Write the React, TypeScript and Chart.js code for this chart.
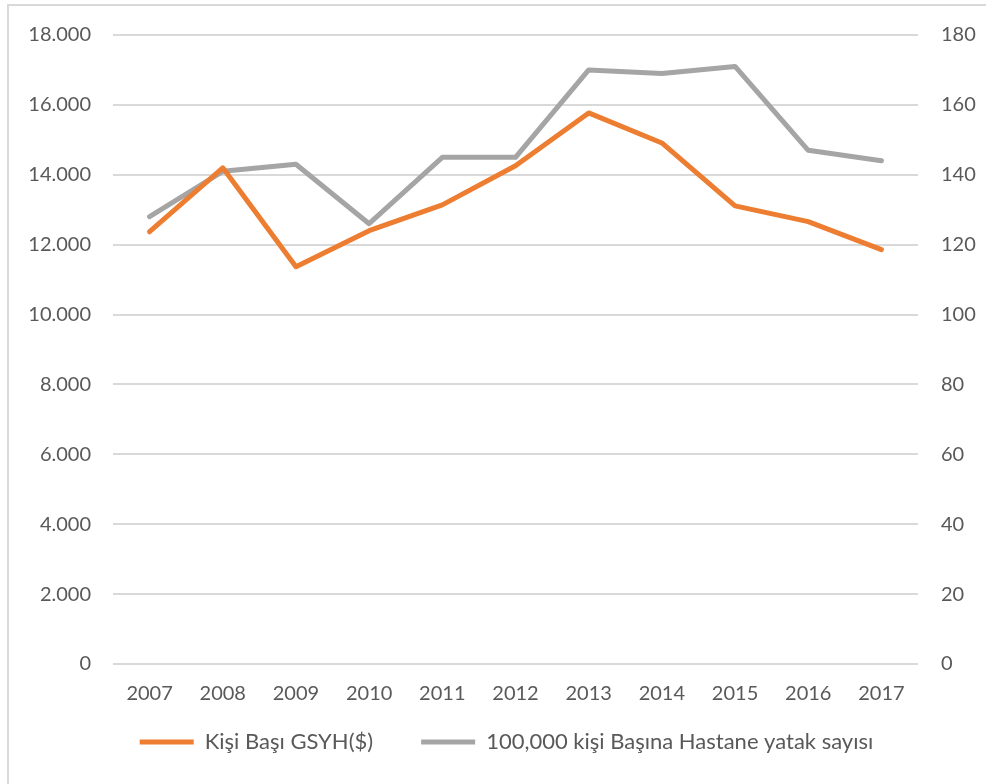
import React, { useEffect, useRef } from "react";
import { Chart, registerables } from "chart.js";

Chart.register(...registerables);

const years = ["2007", "2008", "2009", "2010", "2011", "2012", "2013", "2014", "2015", "2016", "2017"];
const gdpPerCapita = [12370, 14200, 11370, 12400, 13140, 14260, 15770, 14910, 13110, 12660, 11860];
const hospitalBeds = [128, 141, 143, 126, 145, 145, 170, 169, 171, 147, 144];
const gdpLabel = "Kişi Başı GSYH($)";
const bedsLabel = "100,000 kişi Başına Hastane yatak sayısı";

const FONT = "Lato";
const TEXT = "#595959";
const GRID = "#d9d9d9";

const fmt = (v: number) => String(v).replace(/\B(?=(\d{3})+(?!\d))/g, ".");

// legend: keep wide horizontal spacing between items but a compact box,
// then lift it closer to the x axis
const LEGEND_HEIGHT = 76;
const LEGEND_LIFT = 23;
const legendFit = {
  id: "legendFit",
  beforeLayout(chart: any) {
    const lg = chart.legend;
    if (lg && !lg._patched) {
      const f = lg.fit.bind(lg);
      lg.fit = function () {
        f();
        this.height = LEGEND_HEIGHT;
      };
      lg._patched = true;
    }
  },
  afterLayout(chart: any) {
    const lg = chart.legend;
    if (lg) {
      lg.top -= LEGEND_LIFT;
      lg.bottom -= LEGEND_LIFT;
    }
  },
};

export default function App() {
  const ref = useRef<HTMLCanvasElement>(null);
  useEffect(() => {
    if (!ref.current) return;
    const chart = new Chart(ref.current, {
      type: "line",
      data: {
        labels: years,
        datasets: [
          {
            label: gdpLabel,
            data: gdpPerCapita,
            borderColor: "#ED7D31",
            backgroundColor: "#ED7D31",
            borderWidth: 5,
            pointRadius: 0,
            tension: 0,
            borderCapStyle: "round",
            borderJoinStyle: "round",
            yAxisID: "y",
          },
          {
            label: bedsLabel,
            data: hospitalBeds,
            borderColor: "#A5A5A5",
            backgroundColor: "#A5A5A5",
            borderWidth: 5,
            pointRadius: 0,
            tension: 0,
            borderCapStyle: "round",
            borderJoinStyle: "round",
            yAxisID: "y1",
          },
        ],
      },
      plugins: [legendFit],
      options: {
        animation: false,
        responsive: false,
        maintainAspectRatio: false,
        layout: { padding: { left: 27, right: 0, top: 22, bottom: 2 } },
        plugins: {
          tooltip: { enabled: false },
          legend: {
            position: "bottom",
            labels: {
              usePointStyle: true,
              pointStyle: "line",
              pointStyleWidth: 54,
              color: TEXT,
              font: { family: FONT, size: 22 },
              padding: 48,
            },
          },
        },
        scales: {
          x: {
            offset: true,
            grid: { display: false, drawTicks: false },
            border: { display: false },
            ticks: { color: TEXT, font: { family: FONT, size: 20 }, padding: 18, maxRotation: 0 },
            afterFit: (s: any) => {
              s.height = 42;
            },
          },
          y: {
            position: "left",
            min: 0,
            max: 18000,
            grid: { color: GRID, lineWidth: 2, drawTicks: false },
            border: { display: false },
            ticks: {
              stepSize: 2000,
              color: TEXT,
              font: { family: FONT, size: 20 },
              padding: 22,
              callback: (v: any) => fmt(Number(v)),
            },
            afterFit: (s: any) => {
              s.width = 86;
            },
          },
          y1: {
            position: "right",
            min: 0,
            max: 180,
            grid: { display: false, drawTicks: false },
            border: { display: false },
            ticks: { stepSize: 20, color: TEXT, font: { family: FONT, size: 20 }, padding: 23 },
            afterFit: (s: any) => {
              s.width = 68;
            },
          },
        },
      },
    });
    return () => chart.destroy();
  }, []);
  return (
    <div style={{ position: "absolute", left: 0, top: 0, width: 986, height: 784, overflow: "hidden", background: "#fff" }}>
      <div style={{ position: "absolute", left: 7, top: 4, width: 1000, height: 1000, border: "2px solid #d9d9d9", boxSizing: "border-box" }} />
      <canvas ref={ref} width={986} height={784} style={{ position: "absolute", left: 0, top: 0, width: 986, height: 784 }} />
    </div>
  );
}
